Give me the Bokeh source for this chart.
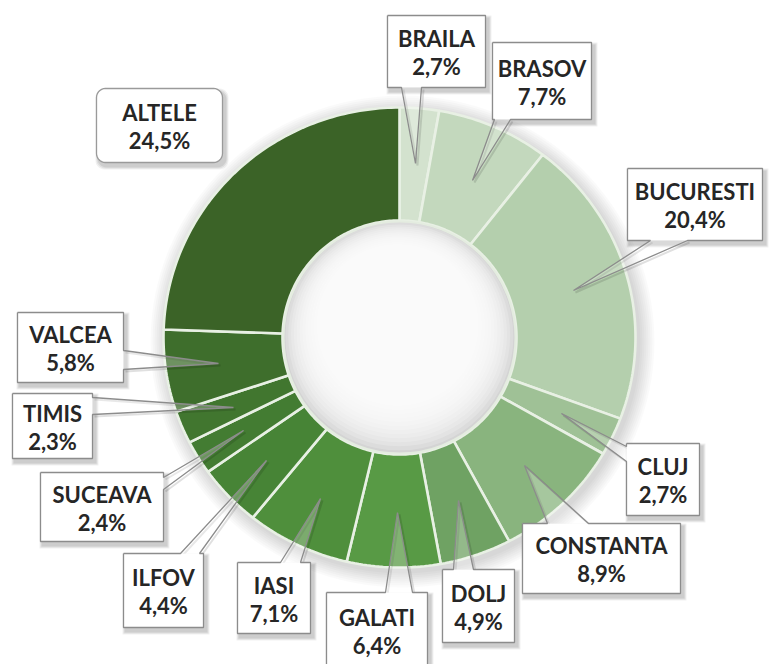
import numpy as np
from bokeh.plotting import figure
from bokeh.models import Range1d
from bokeh.core.properties import value
from bokeh.embed import file_html
from bokeh.resources import INLINE

# ---------------- data ----------------
regions = ["BRAILA", "BRASOV", "BUCURESTI", "CLUJ", "CONSTANTA", "DOLJ", "GALATI",
           "IASI", "ILFOV", "SUCEAVA", "TIMIS", "VALCEA", "ALTELE"]
shares = [2.7, 7.7, 20.4, 2.7, 8.9, 4.9, 6.4, 7.1, 4.4, 2.4, 2.3, 5.8, 24.5]
colors = ["#d3e2ce", "#c3d8bd", "#b4cfad", "#9fc196", "#89b47e", "#6fa263", "#589a45",
          "#4f8f3c", "#478436", "#437c32", "#41762f", "#3e6e2c", "#3b6327"]

# ---------------- layout (pixel space of the page) ----------------
CX, CY = 399.0, 337.0
RX, RY = 236.0, 230.0
RIN = 117.0

# label box: (x0, x1, y0, y1), pointer side, base point 1, base point 2, tip
boxes = {
    "BRAILA":    ((387, 485, 15, 87), "bottom", (401, 87), (421, 87), (415, 163)),
    "BRASOV":    ((492, 591, 42, 119), "bottom", (494, 119), (510, 119), (472, 180)),
    "BUCURESTI": ((627, 762, 168, 240), "bottom", (650, 240), (687, 240), (573, 290)),
    "CLUJ":      ((626, 699, 443, 515), "left", (626, 446), (626, 461), (561, 413)),
    "CONSTANTA": ((522, 680, 523, 593), "top", (547, 523), (588, 523), (524, 465)),
    "DOLJ":      ((442, 514, 569, 642), "top", (453, 569), (473, 569), (458, 500)),
    "GALATI":    ((326, 427, 592, 668), "top", (385, 592), (412, 592), (397, 512)),
    "IASI":      ((237, 310, 562, 633), "top", (280, 562), (300, 562), (320, 498)),
    "ILFOV":     ((123, 203, 553, 627), "top", (180, 553), (199, 553), (266, 460)),
    "SUCEAVA":   ((40, 163, 472, 541), "right", (163, 477), (163, 489), (243, 430)),
    "TIMIS":     ((12, 92, 393, 458), "right", (92, 397), (92, 414), (233, 407)),
    "VALCEA":    ((17, 123, 312, 382), "right", (123, 350), (123, 369), (218, 363)),
    "ALTELE":    ((96, 222, 88, 162), None, None, None, None),
}

W, H = 770, 664
p = figure(width=W, height=H, output_backend="svg", toolbar_location=None,
           x_range=Range1d(0, W), y_range=Range1d(H, 0),
           min_border=0, border_fill_color="white", background_fill_color="white")
p.axis.visible = False
p.grid.visible = False
p.outline_line_color = None

# ---------------- donut halo (soft shadow) ----------------
for d in range(16, 0, -2):
    p.ellipse(x=CX + 3, y=CY + 4, width=2 * (RX + d), height=2 * (RY + d),
              fill_color="black", fill_alpha=0.018, line_color=None)

# ---------------- wedges ----------------
total = float(sum(shares))
angles = np.cumsum([0.0] + shares) / total * 2 * np.pi
xs, ys = [], []
for a0, a1 in zip(angles[:-1], angles[1:]):
    t = np.linspace(a0, a1, max(8, int((a1 - a0) * 60)))
    ox = CX + RX * np.sin(t)
    oy = CY - RY * np.cos(t)
    ix = CX + RIN * np.sin(t[::-1])
    iy = CY - RIN * np.cos(t[::-1])
    xs.append(list(np.concatenate([ox, ix])))
    ys.append(list(np.concatenate([oy, iy])))
p.patches(xs, ys, fill_color=colors, line_color="#e8f0e4", line_width=2.6)

# ---------------- hole shading ----------------
p.ellipse(x=CX, y=CY, width=2 * RIN - 2, height=2 * RIN - 2,
          fill_color="#d4d4d4", line_color="#e4ece0", line_width=2)
for r in np.arange(RIN - 3, 78, -3.0):
    p.ellipse(x=CX - (RIN - r) * 0.05, y=CY - (RIN - r) * 0.35, width=2 * r, height=2 * r,
              fill_color="white", fill_alpha=0.2, line_color=None)

# ---------------- callouts ----------------
def pct(v):
    return f"{v:.1f}".replace(".", ",") + "%"

def rounded_rect(x0, x1, y0, y1, r):
    px, py = [], []
    for (cx, cy, a0) in [(x1 - r, y0 + r, -90), (x1 - r, y1 - r, 0),
                         (x0 + r, y1 - r, 90), (x0 + r, y0 + r, 180)]:
        t = np.radians(np.linspace(a0, a0 + 90, 8))
        px += list(cx + r * np.cos(t))
        py += list(cy + r * np.sin(t))
    return px, py

name_x, name_y, pct_y, labels, pcts = [], [], [], [], []
for name, v in zip(regions, shares):
    (x0, x1, y0, y1), side, b1, b2, tip = boxes[name]
    # shadow
    for k, a in [(3, 0.06), (2, 0.07), (1, 0.08)]:
        if side is None:
            sx, sy = rounded_rect(x0 + 2 - k, x1 + 3 + k, y0 + 3 - k, y1 + 4 + k, 9)
            p.patch(sx, sy, fill_color="black", fill_alpha=a, line_color=None)
        else:
            p.quad(left=x0 + 2 - k, right=x1 + 3 + k, top=y0 + 3 - k, bottom=y1 + 4 + k,
                   fill_color="black", fill_alpha=a, line_color=None)
    if side is None:
        bx, by = rounded_rect(x0, x1, y0, y1, 9)
        p.patch(bx, by, fill_color="white", line_color="#9a9a9a", line_width=1.3)
    else:
        # pointer shadow + translucent pointer
        p.line([b1[0] + 2, tip[0] + 2, b2[0] + 2], [b1[1] + 2, tip[1] + 2, b2[1] + 2],
               line_color="black", line_alpha=0.12, line_width=2)
        p.patch([b1[0], tip[0], b2[0]], [b1[1], tip[1], b2[1]],
                fill_color="white", fill_alpha=0.25, line_color=None)
        p.quad(left=x0, right=x1, top=y0, bottom=y1, fill_color="white", line_color=None)
        if side == "top":
            ox = [x0, b1[0], tip[0], b2[0], x1, x1, x0, x0]
            oy = [y0, b1[1], tip[1], b2[1], y0, y1, y1, y0]
        elif side == "bottom":
            ox = [x0, x1, x1, b2[0], tip[0], b1[0], x0, x0]
            oy = [y0, y0, y1, b2[1], tip[1], b1[1], y1, y0]
        elif side == "left":
            ox = [x0, x1, x1, x0, b2[0], tip[0], b1[0], x0]
            oy = [y0, y0, y1, y1, b2[1], tip[1], b1[1], y0]
        else:
            ox = [x0, x1, b1[0], tip[0], b2[0], x1, x0, x0]
            oy = [y0, y0, b1[1], tip[1], b2[1], y1, y1, y0]
        p.line(ox, oy, line_color="#8c8c8c", line_width=1.3)
    name_x.append((x0 + x1) / 2)
    name_y.append((y0 + y1) / 2 - 13)
    pct_y.append((y0 + y1) / 2 + 15)
    labels.append(name)
    pcts.append(pct(v))

font = value("Lato")
p.text(x=name_x, y=name_y, text=labels, text_font=font, text_font_size="22px",
       text_font_style="bold", text_color="#262626", text_align="center",
       text_baseline="middle")
p.text(x=name_x, y=pct_y, text=pcts, text_font=font, text_font_size="22px",
       text_font_style="bold", text_color="#262626", text_align="center",
       text_baseline="middle")

open("out.html", "w").write(file_html(p, INLINE))
